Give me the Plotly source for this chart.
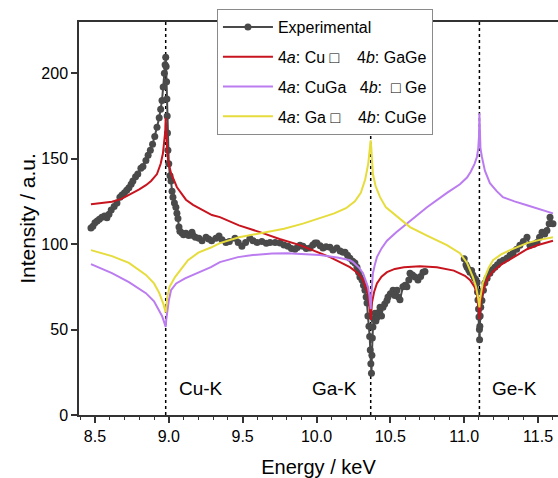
import plotly.graph_objects as go

# ---------------- data ----------------
exp_energy = [
    8.473, 8.486, 8.500, 8.515, 8.530, 8.547, 8.565, 8.581, 8.595, 8.610, 8.630, 8.649, 8.669, 8.683,
    8.700, 8.715, 8.730, 8.745, 8.757, 8.775, 8.790, 8.811, 8.825, 8.845, 8.860, 8.875, 8.890, 8.905,
    8.920, 8.935, 8.945, 8.954, 8.962, 8.970, 8.975, 8.979, 8.982, 8.985, 8.987, 8.989, 8.991, 8.994,
    9.000, 9.008, 9.015, 9.022, 9.028, 9.038, 9.048, 9.055, 9.062, 9.069, 9.075, 9.089, 9.100, 9.116,
    9.135, 9.157, 9.164, 9.180, 9.204, 9.225, 9.252, 9.270, 9.290, 9.319, 9.340, 9.360, 9.387, 9.410,
    9.448, 9.470, 9.495, 9.520, 9.549, 9.570, 9.597, 9.630, 9.660, 9.685, 9.720, 9.753, 9.780, 9.807,
    9.830, 9.854, 9.870, 9.888, 9.908, 9.930, 9.956, 9.975, 9.990, 10.003, 10.025, 10.044, 10.065,
    10.091, 10.111, 10.138, 10.160, 10.179, 10.193, 10.210, 10.226, 10.245, 10.260, 10.274, 10.285,
    10.294, 10.308, 10.318, 10.328, 10.336, 10.342, 10.348, 10.355, 10.360, 10.364, 10.368, 10.372,
    10.375, 10.378, 10.382, 10.388, 10.396, 10.402, 10.409, 10.420, 10.430, 10.440, 10.450, 10.462,
    10.477, 10.484, 10.500, 10.518, 10.530, 10.545, 10.555, 10.565, 10.585, 10.600, 10.612, 10.625,
    10.633, 10.650, 10.667, 10.687, 10.705, 10.721, 10.734,
    None,
    11.000, 11.012, 11.019, 11.030, 11.039, 11.050, 11.059, 11.070, 11.080, 11.086, 11.090, 11.093,
    11.097, 11.100, 11.103, 11.104, 11.106, 11.108, 11.112, 11.120, 11.130, 11.140, 11.155, 11.174,
    11.190, 11.208, 11.225, 11.242, 11.265, 11.289, 11.310, 11.330, 11.355, 11.377, 11.400, 11.425,
    11.445, 11.470, 11.493, 11.510, 11.527, 11.545, 11.560, 11.575, 11.581, 11.601,
]
exp_intensity = [
    109.4, 110.5, 112.5, 113.5, 114.5, 115.8, 116.5, 115.5, 117.5, 120, 122, 124, 127.5, 128.7,
    130, 131.5, 133, 135, 137, 139.5, 141, 144.4, 145.5, 149, 152, 155, 158.5, 163,
    168.4, 174, 179, 184, 192, 200, 205, 209.4, 204, 195, 185, 175, 165, 155,
    147, 140, 137, 131, 127.5, 124, 121.6, 118, 115, 110, 107.5, 106.5, 105.5, 106.4,
    105, 107, 105, 104, 103.5, 102, 104, 103, 102, 103.5, 104.7, 102.5, 101, 101.5,
    103.5, 101, 98.8, 101, 103.5, 102, 101, 101.5, 100.5, 101, 101, 100.6, 99.5, 98.8,
    97.5, 97, 98, 99.4, 98.8, 97.5, 97.7, 99.5, 100.6, 100.6, 99, 97.7, 98.5,
    98.2, 96.5, 97.7, 96, 95.3, 95.3, 93.5, 91.8, 90, 89, 86.5, 83.5,
    80.7, 79, 76, 73, 69, 65.5, 58, 52, 46, 38, 30, 24.5,
    35, 45, 51.5, 56, 59.6, 55, 57, 60, 63, 58, 63, 65,
    67, 69, 71, 73, 70, 73, 69, 67.5, 75, 76, 75, 79,
    83, 82, 80.7, 79, 81, 83.6, 84,
    None,
    91.5, 88, 86.5, 85, 83.6, 84.5, 81.9, 80, 79, 77.2, 72, 67.3,
    62, 57.3, 50, 44, 52, 58, 63, 67, 73, 77.2, 80, 83,
    85, 86.5, 88, 89.5, 90.5, 91.8, 93.5, 94.7, 97, 99.4, 101.5, 104,
    99.4, 100, 101, 104, 107, 106, 108, 112, 115.8, 112,
]

red_energy = [8.473, 8.550, 8.615, 8.680, 8.730, 8.800, 8.845, 8.880, 8.920, 8.945, 8.960, 8.970,
              8.976, 8.979, 8.982, 8.988, 8.995, 9.015, 9.055, 9.116, 9.164, 9.292, 9.346, 9.475,
              9.617, 9.750, 9.888, 10.091, 10.159, 10.226, 10.280, 10.315, 10.348, 10.358, 10.363,
              10.367, 10.371, 10.376, 10.390, 10.409, 10.440, 10.477, 10.530, 10.592, 10.700, 10.815,
              10.930, 10.971, 11.005, 11.039, 11.070, 11.086, 11.097, 11.100, 11.103, 11.106,
              11.110, 11.120, 11.140, 11.160, 11.195, 11.250, 11.310, 11.425, 11.500, 11.601]
red_intensity = [123.4, 124.0, 124.8, 126.5, 128.7, 132, 134.5, 137, 141, 147, 153, 160,
                 166, 174, 166, 157, 149, 141.5, 133.3, 126, 123, 117, 115.8, 111,
                 107, 103, 99.4, 92.4, 89.5, 86.5, 83, 79, 71, 65, 60,
                 55.6, 61, 66, 72, 77, 81, 83.6, 85.5, 86.5, 87, 86.5,
                 84.5, 83, 81.5, 79, 75, 71, 65, 61, 56, 61,
                 65, 70, 76, 80, 84, 88, 91, 97, 99.5, 102]

purple_energy = [8.473, 8.615, 8.730, 8.845, 8.900, 8.935, 8.954, 8.968, 8.975, 8.979, 8.983,
                 8.990, 9.000, 9.015, 9.050, 9.110, 9.200, 9.285, 9.346, 9.468, 9.570, 9.700,
                 9.800, 10.023, 10.150, 10.226, 10.247, 10.290, 10.315, 10.348, 10.358, 10.363,
                 10.367, 10.371, 10.376, 10.382, 10.395, 10.409, 10.440, 10.477, 10.540, 10.612,
                 10.748, 10.883, 10.971, 11.019, 11.045, 11.070, 11.086, 11.095, 11.100, 11.103,
                 11.106, 11.110, 11.120, 11.140, 11.174, 11.220, 11.262, 11.340, 11.425, 11.510,
                 11.601]
purple_intensity = [88.3, 83, 77.8, 71.3, 66.5, 61.5, 58, 54.5, 52.5, 51.5, 56,
                    62, 67, 73, 77, 80, 83.5, 86.5, 89.5, 92.4, 93.6, 94.5,
                    94.7, 93.6, 92, 90.6, 89.5, 86, 83, 75, 70, 66,
                    62, 70, 77, 83, 88, 92.4, 97.5, 102, 107, 112,
                    121.6, 130, 135, 139, 142.5, 147, 151, 156, 163, 176.6,
                    163, 156, 151, 143, 135.7, 131, 127.5, 125, 122.8, 120.5,
                    118]

yellow_energy = [8.473, 8.615, 8.730, 8.845, 8.900, 8.935, 8.961, 8.972, 8.979, 8.983, 8.990,
                 9.005, 9.042, 9.130, 9.200, 9.285, 9.346, 9.475, 9.637, 9.780, 9.908, 10.020,
                 10.120, 10.200, 10.260, 10.300, 10.330, 10.350, 10.360, 10.367, 10.371, 10.376,
                 10.382, 10.400, 10.430, 10.470, 10.518, 10.633, 10.748, 10.883, 10.971, 11.019,
                 11.059, 11.080, 11.093, 11.100, 11.103, 11.106, 11.113, 11.125, 11.140, 11.165,
                 11.195, 11.250, 11.310, 11.425, 11.510, 11.601]
yellow_intensity = [96.5, 93, 89, 82, 77, 71.5, 65.5, 62.5, 60, 64, 69,
                    75, 80.7, 90.6, 95, 98, 100.6, 104, 106.5, 109, 112, 115,
                    118, 121, 125, 130, 138, 147, 154, 160.8, 156, 147,
                    141, 134, 127.5, 121.5, 118, 110, 105, 99.4, 94.7, 89,
                    80.7, 75, 69, 66, 63, 67, 72, 77, 80.7, 86,
                    90.6, 94, 96.5, 100.6, 102.5, 104]

edge_energy = [8.979, 10.367, 11.103]
edge_labels = ["Cu-K", "Ga-K", "Ge-K"]
edge_label_side = ["right", "left", "right"]

series_names = [
    "Experimental",
    "4<i>a</i>: Cu \u25a1\u00a0\u00a0\u00a0 4<i>b</i>: GaGe",
    "4<i>a</i>: CuGa\u00a0\u00a0 4<i>b</i>:\u00a0 \u25a1 Ge",
    "4<i>a</i>: Ga \u25a1\u00a0\u00a0\u00a0 4<i>b</i>: CuGe",
]

x_ticks = [8.5, 9.0, 9.5, 10.0, 10.5, 11.0, 11.5]
y_ticks = [0, 50, 100, 150, 200]

# ---------------- figure ----------------
FONT = "Liberation Sans, Arial, sans-serif"
fig = go.Figure()

fig.add_trace(go.Scatter(
    x=exp_energy, y=exp_intensity, name=series_names[0], mode="lines+markers",
    line=dict(color="#4a4a4a", width=2), marker=dict(color="#4a4a4a", size=7),
    connectgaps=False, legendgroup="g0",
))
fig.add_trace(go.Scatter(
    x=red_energy, y=red_intensity, name=series_names[1], mode="lines",
    line=dict(color="#c8141e", width=2), legendgroup="g1",
))
fig.add_trace(go.Scatter(
    x=purple_energy, y=purple_intensity, name=series_names[2], mode="lines",
    line=dict(color="#bb7cf0", width=2), legendgroup="g2",
))
fig.add_trace(go.Scatter(
    x=yellow_energy, y=yellow_intensity, name=series_names[3], mode="lines",
    line=dict(color="#e6dc3c", width=2), legendgroup="g3",
))

for e, lab, side in zip(edge_energy, edge_labels, edge_label_side):
    fig.add_shape(type="line", x0=e, x1=e, y0=0, y1=1, xref="x", yref="paper",
                  line=dict(color="black", width=1.5, dash="dot"), layer="below")
    fig.add_annotation(x=e, y=15.8, xref="x", yref="y", text=lab, showarrow=False,
                       xanchor="left" if side == "right" else "right",
                       xshift=11 if side == "right" else -12,
                       font=dict(family=FONT, size=19, color="black"))

fig.update_layout(
    width=558, height=478,
    margin=dict(l=79, r=0, t=22, b=63),
    paper_bgcolor="white", plot_bgcolor="white",
    font=dict(family=FONT, size=16, color="black"),
    showlegend=True,
    legend=dict(
        x=0.288, y=1.033, xanchor="left", yanchor="top",
        bgcolor="white", bordercolor="#8a8a8a", borderwidth=1,
        font=dict(family=FONT, size=16, color="black"),
        itemwidth=50, tracegroupgap=6,
    ),
    xaxis=dict(
        range=[8.392, 11.635], tickvals=x_ticks, ticktext=[f"{v:.1f}" for v in x_ticks],
        ticks="outside", ticklen=6, tickwidth=1.5, tickcolor="#333",
        showline=True, linecolor="#333", linewidth=1.5, mirror=True,
        showgrid=False, zeroline=False,
        minor=dict(dtick=0.1, tick0=8.5, ticks="outside", ticklen=3.5, tickwidth=1.2, tickcolor="#333", showgrid=False),
        title=dict(text="Energy / keV", font=dict(family=FONT, size=20), standoff=16),
        tickfont=dict(family=FONT, size=16),
    ),
    yaxis=dict(
        range=[0, 230], tickvals=y_ticks,
        ticks="outside", ticklen=6, tickwidth=1.5, tickcolor="#333",
        showline=True, linecolor="#333", linewidth=1.5, mirror=False,
        showgrid=False, zeroline=False,
        title=dict(text="Intensity / a.u.", font=dict(family=FONT, size=21), standoff=0),
        tickfont=dict(family=FONT, size=16),
    ),
)

fig.write_html(
    "out.html",
    config={"displayModeBar": False},
    post_script="document.body.style.margin='0';document.body.style.overflow='hidden';",
)
